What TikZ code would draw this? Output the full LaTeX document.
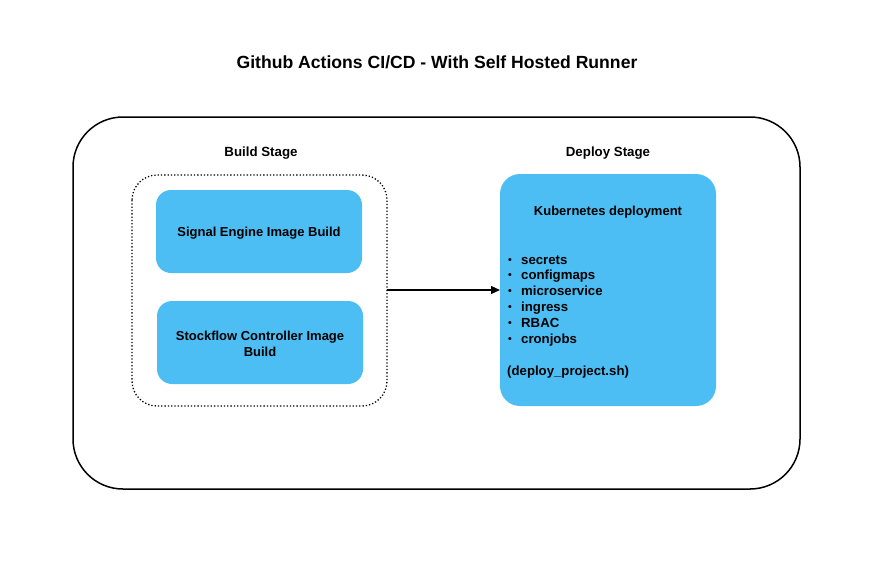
\documentclass[tikz,border=0pt]{standalone}
\usepackage{fontspec}
\setmainfont{Liberation Sans}
\usetikzlibrary{arrows.meta}
\definecolor{boxblue}{RGB}{76,190,243}
\newcommand{\bul}{\makebox[14pt][l]{\hspace{1pt}\raisebox{1pt}{\fontsize{10.5}{8}\selectfont\textbullet}}}
\begin{document}
\begin{tikzpicture}[x=1pt,y=-1pt,
  every node/.style={font=\bfseries, text=black, inner sep=0pt},
  bluebox/.style={fill=boxblue, draw=none, rounded corners=15pt},
  boxtext/.style={font=\bfseries\fontsize{13}{16}\selectfont, align=center},
  stagelabel/.style={font=\bfseries\fontsize{13.3}{15}\selectfont},
  listtext/.style={font=\bfseries\fontsize{13.2}{15.8}\selectfont, align=left, anchor=base west}]
\useasboundingbox (0,0) rectangle (885,563);
\fill[white] (0,0) rectangle (885,563);
\node[font=\bfseries\fontsize{17.6}{20}\selectfont] (title) at (437,62.5) {Github Actions CI/CD - With Self Hosted Runner};
\draw[line width=1.5pt, rounded corners=50pt] (73,117) rectangle (800,489);
\node[stagelabel] (buildlbl) at (261,153) {Build Stage};
\node[stagelabel] (deploylbl) at (608,153) {Deploy Stage};
\draw[line width=1.3pt, dotted, rounded corners=25pt] (132,175) rectangle (387,406);
\coordinate (buildR) at (387,290);
\path[bluebox] (156,190) rectangle (362,273);
\node[boxtext] (sig) at (259,233) {Signal Engine Image Build};
\path[bluebox] (157,301) rectangle (363,384);
\node[boxtext] (stock) at (260,343.5) {Stockflow Controller Image\\Build};
\path[bluebox, rounded corners=20pt] (500,174) rectangle (716,406);
\coordinate (deployL) at (500,290);
\node[boxtext] (k8s) at (608,212.5) {Kubernetes deployment};
\node[listtext] (list) at (507,343) {\bul secrets\\
\bul configmaps\\
\bul microservice\\
\bul ingress\\
\bul RBAC\\
\bul cronjobs};
\node[listtext] (script) at (507,375) {(deploy\_project.sh)};
\draw[line width=1.1pt, -{Triangle[length=9pt,width=8pt]}] (buildR) -- (deployL);
\end{tikzpicture}
\end{document}
